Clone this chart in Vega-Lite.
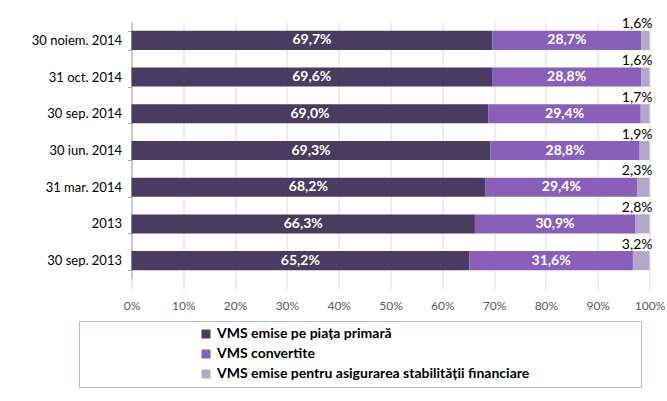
{
  "$schema": "https://vega.github.io/schema/vega-lite/v6.json",
  "width": 518,
  "height": 257,
  "autosize": {"type": "none"},
  "padding": {"left": 131.5, "top": 22, "right": 17.5, "bottom": 122},
  "config": {
    "locale": {"number": {"decimal": ",", "thousands": ".", "grouping": [3], "currency": ["", " lei"]}},
    "font": "Lato",
    "view": {"stroke": null}
  },
  "data": {
    "values": [
      {"date": "30 noiem. 2014", "series": "VMS emise pe piața primară", "k": 1, "v": 0.697},
      {"date": "30 noiem. 2014", "series": "VMS convertite", "k": 2, "v": 0.287},
      {"date": "30 noiem. 2014", "series": "VMS emise pentru asigurarea stabilității financiare", "k": 3, "v": 0.016},
      {"date": "31 oct. 2014", "series": "VMS emise pe piața primară", "k": 1, "v": 0.696},
      {"date": "31 oct. 2014", "series": "VMS convertite", "k": 2, "v": 0.288},
      {"date": "31 oct. 2014", "series": "VMS emise pentru asigurarea stabilității financiare", "k": 3, "v": 0.016},
      {"date": "30 sep. 2014", "series": "VMS emise pe piața primară", "k": 1, "v": 0.690},
      {"date": "30 sep. 2014", "series": "VMS convertite", "k": 2, "v": 0.294},
      {"date": "30 sep. 2014", "series": "VMS emise pentru asigurarea stabilității financiare", "k": 3, "v": 0.017},
      {"date": "30 iun. 2014", "series": "VMS emise pe piața primară", "k": 1, "v": 0.693},
      {"date": "30 iun. 2014", "series": "VMS convertite", "k": 2, "v": 0.288},
      {"date": "30 iun. 2014", "series": "VMS emise pentru asigurarea stabilității financiare", "k": 3, "v": 0.019},
      {"date": "31 mar. 2014", "series": "VMS emise pe piața primară", "k": 1, "v": 0.682},
      {"date": "31 mar. 2014", "series": "VMS convertite", "k": 2, "v": 0.294},
      {"date": "31 mar. 2014", "series": "VMS emise pentru asigurarea stabilității financiare", "k": 3, "v": 0.023},
      {"date": "2013", "series": "VMS emise pe piața primară", "k": 1, "v": 0.663},
      {"date": "2013", "series": "VMS convertite", "k": 2, "v": 0.309},
      {"date": "2013", "series": "VMS emise pentru asigurarea stabilității financiare", "k": 3, "v": 0.028},
      {"date": "30 sep. 2013", "series": "VMS emise pe piața primară", "k": 1, "v": 0.652},
      {"date": "30 sep. 2013", "series": "VMS convertite", "k": 2, "v": 0.316},
      {"date": "30 sep. 2013", "series": "VMS emise pentru asigurarea stabilității financiare", "k": 3, "v": 0.032}
    ]
  },
  "encoding": {
    "y": {
      "field": "date",
      "type": "nominal",
      "sort": ["30 noiem. 2014", "31 oct. 2014", "30 sep. 2014", "30 iun. 2014", "31 mar. 2014", "2013", "30 sep. 2013"],
      "scale": {"paddingInner": 0.48, "paddingOuter": 0.24},
      "axis": {
        "title": null,
        "tickBand": "extent",
        "tickSize": 4,
        "tickColor": "#a6a6a6",
        "domainColor": "#a6a6a6",
        "labelFontSize": 13,
        "labelColor": "#000000",
        "labelPadding": 6,
        "grid": false
      }
    }
  },
  "layer": [
    {
      "mark": {"type": "bar"},
      "encoding": {
        "x": {
          "field": "v",
          "type": "quantitative",
          "stack": "normalize",
          "scale": {"domain": [0, 1]},
          "axis": {
            "title": null,
            "format": "%",
            "values": [0, 0.1, 0.2, 0.3, 0.4, 0.5, 0.6, 0.7, 0.8, 0.9, 1],
            "grid": true,
            "gridColor": "#d9d9d9",
            "domain": false,
            "ticks": true,
            "tickSize": 10,
            "tickColor": "#d9d9d9",
            "labelFontSize": 12,
            "labelColor": "#595959",
            "labelPadding": 11,
            "labelFlush": false
          }
        },
        "color": {
          "field": "series",
          "type": "nominal",
          "scale": {
            "domain": ["VMS emise pe piața primară", "VMS convertite", "VMS emise pentru asigurarea stabilității financiare"],
            "range": ["#4a3b60", "#8a5fba", "#b3a8c9"]
          },
          "legend": {
            "orient": "none",
            "legendX": -52.5,
            "legendY": 299,
            "title": " ",
            "titleOrient": "right",
            "titlePadding": 106,
            "symbolOffset": 114,
            "padding": 6,
            "strokeColor": "#a9bfcc",
            "labelFontSize": 14,
            "labelFontWeight": "bold",
            "labelColor": "#000000",
            "symbolType": "square",
            "symbolSize": 81,
            "labelOffset": 4,
            "rowPadding": 6,
            "labelLimit": 0
          }
        },
        "order": {"field": "k", "type": "quantitative"}
      }
    },
    {
      "transform": [
        {"stack": "v", "groupby": ["date"], "sort": [{"field": "k", "order": "ascending"}], "offset": "normalize", "as": ["v0", "v1"]},
        {"filter": "datum.k < 3"},
        {"fold": ["v0", "v1"], "as": ["edge", "pos"]}
      ],
      "mark": {"type": "text", "color": "#ffffff", "fontWeight": "bold", "fontSize": 14, "baseline": "middle"},
      "encoding": {
        "x": {
          "aggregate": "mean",
          "field": "pos",
          "type": "quantitative",
          "axis": {
            "title": null,
            "format": "%",
            "values": [0, 0.1, 0.2, 0.3, 0.4, 0.5, 0.6, 0.7, 0.8, 0.9, 1],
            "grid": true,
            "gridColor": "#d9d9d9",
            "domain": false,
            "ticks": true,
            "tickSize": 10,
            "tickColor": "#d9d9d9",
            "labelFontSize": 12,
            "labelColor": "#595959",
            "labelPadding": 11,
            "labelFlush": false
          }
        },
        "text": {"field": "v", "type": "quantitative", "format": ".1%"},
        "detail": {"field": "series", "type": "nominal"}
      }
    },
    {
      "transform": [
        {"stack": "v", "groupby": ["date"], "sort": [{"field": "k", "order": "ascending"}], "offset": "normalize", "as": ["v0", "v1"]},
        {"filter": "datum.k == 3"}
      ],
      "mark": {"type": "text", "color": "#000000", "fontSize": 14, "align": "right", "baseline": "alphabetic", "dx": 3, "dy": -12},
      "encoding": {
        "x": {
          "field": "v1",
          "type": "quantitative",
          "axis": {
            "title": null,
            "format": "%",
            "values": [0, 0.1, 0.2, 0.3, 0.4, 0.5, 0.6, 0.7, 0.8, 0.9, 1],
            "grid": true,
            "gridColor": "#d9d9d9",
            "domain": false,
            "ticks": true,
            "tickSize": 10,
            "tickColor": "#d9d9d9",
            "labelFontSize": 12,
            "labelColor": "#595959",
            "labelPadding": 11,
            "labelFlush": false
          }
        },
        "text": {"field": "v", "type": "quantitative", "format": ".1%"}
      }
    }
  ]
}
